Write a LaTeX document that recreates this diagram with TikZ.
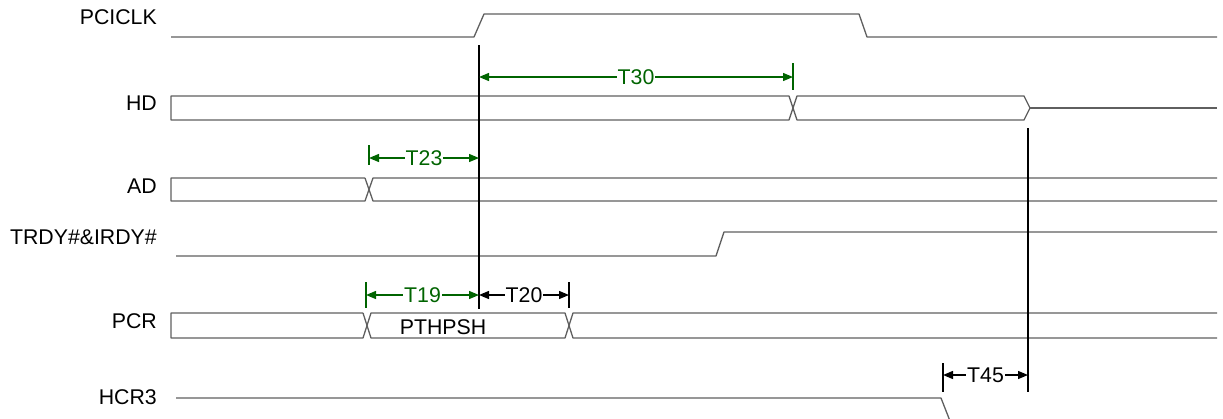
\documentclass[tikz,border=0pt]{standalone}
\usepackage{fontspec}
\setmainfont{Liberation Sans}
\usetikzlibrary{arrows.meta}
\definecolor{dimgreen}{RGB}{0,100,0}
\definecolor{wavegray}{RGB}{95,95,95}
\begin{document}
\begin{tikzpicture}[x=1pt,y=-1pt,
  wave/.style={draw=wavegray,line width=1.3pt,line join=round},
  signame/.style={anchor=east,inner sep=0pt,font=\fontsize{21.3}{24}\selectfont},
  tlab/.style={fill=white,inner sep=1pt,font=\fontsize{21.3}{24}\selectfont},
  dimline/.style={line width=1.3pt,{Triangle[length=10pt,width=8pt]}-{Triangle[length=10pt,width=8pt]}},
  dimtick/.style={line width=1.3pt},
  markline/.style={draw=black,line width=2pt}]
\useasboundingbox (0,0) rectangle (1223,418);

\node[signame] (pciclk) at (157,17) {PCICLK};
\node[signame] (hd) at (157,103) {HD};
\node[signame] (ad) at (157,186) {AD};
\node[signame] (trdy) at (157,237) {TRDY\#\&IRDY\#};
\node[signame] (pcr) at (157,321) {PCR};
\node[signame] (hcr) at (157,397) {HCR3};

\draw[wave] (171,37) -- (474,37) -- (484,14) -- (859,14) -- (867,37) -- (1217,37);
\draw[wave] (789,96) -- (171,96) -- (171,120) -- (789,120) -- (797,96) -- (1024,96) -- (1030,108) -- (1024,120) -- (797,120) -- cycle;
\draw[wave] (1030,108) -- (1217,108);
\draw[wave] (365,178) -- (171,178) -- (171,201) -- (365,201) -- (373,178) -- (1217,178);
\draw[wave] (365,178) -- (373,201) -- (1217,201);
\draw[wave] (176,256) -- (716,256) -- (724,232) -- (1217,232);
\draw[wave] (363,313) -- (171,313) -- (171,338) -- (363,338) -- (371,313) -- (565,313) -- (573,338) -- (1217,338);
\draw[wave] (363,313) -- (371,338) -- (565,338) -- (573,313) -- (1217,313);
\node[font=\fontsize{21.3}{24}\selectfont] (pthpsh) at (443,327) {PTHPSH};
\draw[wave] (176,398) -- (941,398) -- (950,421);

\coordinate (clktop) at (479,45);
\coordinate (clkbot) at (479,309);
\coordinate (hdtop) at (1028,128);
\coordinate (hdbot) at (1028,392);
\draw[markline] (clktop) -- (clkbot);
\draw[markline,line width=1.6pt] (hdtop) -- (hdbot);

\coordinate (t30a) at (479,77);
\coordinate (t30b) at (793,77);
\draw[dimtick,dimgreen] (793,63) -- (793,90);
\draw[dimline,dimgreen] (t30a) -- node[tlab,text=dimgreen] (t30) {T30} (t30b);

\coordinate (t23a) at (369,158);
\coordinate (t23b) at (479,158);
\draw[dimtick,dimgreen] (369,145) -- (369,165);
\draw[dimline,dimgreen] (t23a) -- node[tlab,text=dimgreen] (t23) {T23} (t23b);

\coordinate (t19a) at (366,295);
\coordinate (t19b) at (479,295);
\coordinate (t20b) at (569,295);
\draw[dimtick,dimgreen] (366,282) -- (366,308);
\draw[dimline,dimgreen] (t19a) -- node[tlab,text=dimgreen] (t19) {T19} (t19b);
\draw[dimtick] (569,282) -- (569,308);
\draw[dimline] (t19b) -- node[tlab] (t20) {T20} (t20b);

\coordinate (t45a) at (943,375);
\coordinate (t45b) at (1028,375);
\draw[dimtick] (943,363) -- (943,392);
\draw[dimline] (t45a) -- node[tlab] (t45) {T45} (t45b);

\end{tikzpicture}
\end{document}
